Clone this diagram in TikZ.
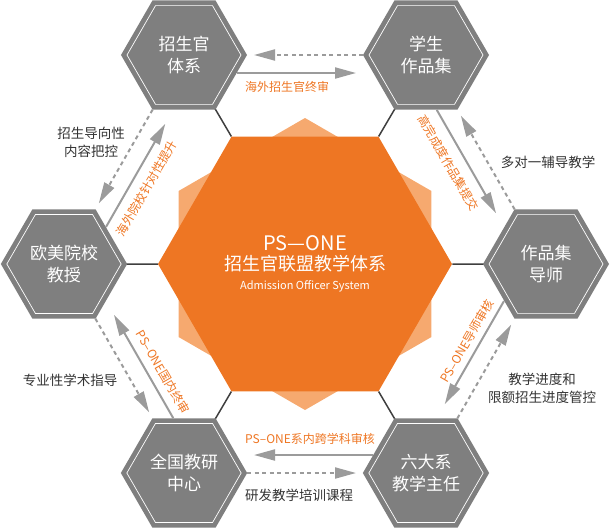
\documentclass[tikz,border=0pt]{standalone}
\usepackage{fontspec}
\setmainfont{Noto Sans CJK SC}
\usetikzlibrary{positioning, arrows.meta, shapes.geometric, calc, backgrounds}

\definecolor{hexgray}{HTML}{7F7F7F}
\definecolor{psorange}{HTML}{EE7623}
\definecolor{pslight}{HTML}{F6A96F}
\definecolor{arrgray}{HTML}{9B9B9B}
\definecolor{linkgray}{HTML}{3F3F3F}
\definecolor{txtgray}{HTML}{333333}

\begin{document}
\begin{tikzpicture}[
        x=1pt, y=-1pt,
        hexbox/.style={
            regular polygon, regular polygon sides=6,
            minimum size=114pt, inner sep=1pt,
            fill=hexgray, draw=white, line width=0.7pt,
            preaction={draw=hexgray, line width=10.4pt, line join=miter},
            text=white, align=center,
            font=\fontsize{17}{22}\selectfont
        },
        fwd/.style={draw=arrgray, line width=2pt,
            -{Triangle[length=21pt, width=11pt]}},
        bwd/.style={fwd, dash pattern=on 4pt off 3.5pt},
        link/.style={draw=linkgray, line width=1.5pt},
        tag/.style={text=psorange, font=\fontsize{12}{14}\selectfont},
        note/.style={text=txtgray, align=center,
            font=\fontsize{13.5}{18}\selectfont}
    ]
    \useasboundingbox (0,0) rectangle (610,528);

    % Glow behind the core
    \node[regular polygon, regular polygon sides=6, shape border rotate=30,
          minimum size=292pt, fill=pslight] (glow) at (305,264) {};

    % PS-ONE core
    \node[regular polygon, regular polygon sides=6, minimum size=294pt,
          fill=psorange, text=white, align=center,
          font=\fontsize{18}{22}\selectfont] (core) at (305,264)
        {{\fontsize{20}{22}\selectfont PS—ONE}\\[-1.5pt]
         招生官联盟教学体系\\[-3pt]
         {\fontsize{11}{13}\selectfont Admission Officer System}};

    % Admission officers
    \node[hexbox] (adm) at (184,55) {招生官\\体系};

    % Student portfolios
    \node[hexbox] (work) at (426,55) {学生\\作品集};

    % Portfolio mentors
    \node[hexbox] (mentor) at (546,264) {作品集\\导师};

    % Department heads
    \node[hexbox] (dean) at (426,473) {六大系\\教学主任};

    % Research centre
    \node[hexbox] (lab) at (184,473) {全国教研\\中心};

    % Overseas professors
    \node[hexbox] (prof) at (64,264) {欧美院校\\教授};

    % spokes to the core
    \begin{scope}[on background layer]
        \draw[link] (adm.-60) -- (core.120);
        \draw[link] (work.-120) -- (core.60);
        \draw[link] (mentor.180) -- (core.0);
        \draw[link] (dean.120) -- (core.-60);
        \draw[link] (lab.60) -- (core.-120);
        \draw[link] (prof.0) -- (core.180);
    \end{scope}

    % adm -> work
    \draw[fwd] ($(adm)!53pt!(work)!18pt!-90:(work)$) -- ($(adm)!172pt!(work)!18pt!-90:(work)$);
    \draw[bwd] ($(work)!63pt!(adm)$) -- ($(adm)!70pt!(work)$);
    \node[tag] at ($(adm)!103pt!(work)!32pt!-90:(work)$) {海外招生官终审};

    % work -> mentor
    \draw[fwd] ($(work)!53pt!(mentor)!18pt!-90:(mentor)$) -- ($(work)!172pt!(mentor)!18pt!-90:(mentor)$);
    \draw[bwd] ($(mentor)!63pt!(work)$) -- ($(work)!70pt!(mentor)$);
    \node[tag, rotate=-60] at ($(work)!105pt!(mentor)!34pt!-90:(mentor)$) {高完成度作品集提交};
    \node[note] at (548,162) {多对一辅导教学};

    % mentor -> dean
    \draw[fwd] ($(mentor)!53pt!(dean)!18pt!-90:(dean)$) -- ($(mentor)!172pt!(dean)!18pt!-90:(dean)$);
    \draw[bwd] ($(dean)!63pt!(mentor)$) -- ($(mentor)!70pt!(dean)$);
    \node[tag, rotate=60] at ($(mentor)!106pt!(dean)!30pt!-90:(dean)$) {PS–ONE导师审核};
    \node[note] at (542,388) {教学进度和\\限额招生进度管控};

    % dean -> lab
    \draw[fwd] ($(dean)!53pt!(lab)!18pt!-90:(lab)$) -- ($(dean)!172pt!(lab)!18pt!-90:(lab)$);
    \draw[bwd] ($(lab)!63pt!(dean)$) -- ($(dean)!70pt!(lab)$);
    \node[tag] at ($(dean)!116pt!(lab)!34pt!-90:(lab)$) {PS–ONE系内跨学科审核};
    \node[note] at (299,495) {研发教学培训课程};

    % lab -> prof
    \draw[fwd] ($(lab)!53pt!(prof)!18pt!-90:(prof)$) -- ($(lab)!172pt!(prof)!18pt!-90:(prof)$);
    \draw[bwd] ($(prof)!63pt!(lab)$) -- ($(lab)!70pt!(prof)$);
    \node[tag, rotate=-60] at ($(lab)!98pt!(prof)!32pt!-90:(prof)$) {PS–ONE国内终审};
    \node[note] at (70,380) {专业性学术指导};

    % prof -> adm
    \draw[fwd] ($(prof)!53pt!(adm)!18pt!-90:(adm)$) -- ($(prof)!172pt!(adm)!18pt!-90:(adm)$);
    \draw[bwd] ($(adm)!63pt!(prof)$) -- ($(prof)!70pt!(adm)$);
    \node[tag, rotate=60] at ($(prof)!107pt!(adm)!34pt!-90:(adm)$) {海外院校针对性提升};
    \node[note] at (91,142) {招生导向性\\内容把控};

\end{tikzpicture}
\end{document}
